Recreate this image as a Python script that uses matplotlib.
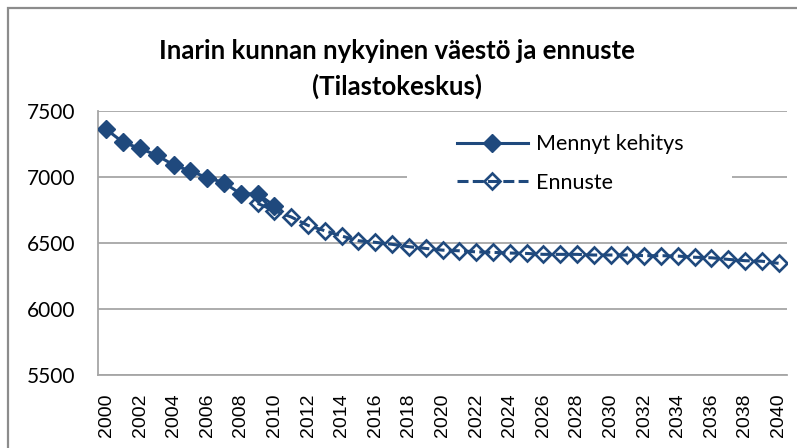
import matplotlib
matplotlib.use("Agg")
import matplotlib.pyplot as plt
from matplotlib.patches import Rectangle

years_past = list(range(2000, 2011))
past_values = [7360, 7262, 7217, 7164, 7091, 7045, 6995, 6957, 6871, 6874, 6780]

years_fc = list(range(2009, 2041))
fc_values = [6800, 6745, 6697, 6633, 6593, 6553, 6517, 6505, 6490, 6472,
             6459, 6446, 6441, 6433, 6429, 6424, 6421, 6414, 6414, 6414,
             6409, 6409, 6409, 6404, 6404, 6401, 6392, 6388, 6376, 6366,
             6362, 6346]

tick_years = list(range(2000, 2041, 2))
y_ticks = [5500, 6000, 6500, 7000, 7500]

title = "Inarin kunnan nykyinen väestö ja ennuste\n(Tilastokeskus)"
label_past = "Mennyt kehitys"
label_fc = "Ennuste"

color = "#1F497D"
grid_c = "#A6A6A6"

fig = plt.figure(figsize=(7.97, 4.48), dpi=100)
fig.patch.set_facecolor("white")

# outer chart border
fig.patches.append(Rectangle((8/797, -0.2), 1.2, (448-8)/448 + 0.2, transform=fig.transFigure,
                             fill=False, edgecolor="#8C8C8C", linewidth=1.6))

ax = fig.add_axes([98/797, 73/448, 689/797, 264/448])
ax.set_facecolor("white")

# legend background (white area hiding the gridline behind the legend)
ax.add_patch(Rectangle((0.4485, 0.663), 0.4715, 0.284, transform=ax.transAxes,
                       facecolor="white", edgecolor="none", zorder=1))

ax.plot(years_fc, fc_values, color=color, linewidth=2.2, linestyle=(0, (3.6, 1.4)),
        marker="D", markersize=8.5, markerfacecolor="none", markeredgecolor=color,
        markeredgewidth=1.9, label=label_fc, zorder=3)
ax.plot(years_past, past_values, color=color, linewidth=2.2, linestyle="-",
        marker="D", markersize=9.5, markerfacecolor=color, markeredgecolor=color,
        label=label_past, zorder=4)

ax.set_xlim(1999.5, 2040.5)
ax.set_ylim(5500, 7500)
ax.set_yticks(y_ticks)
ax.set_xticks(tick_years)
ax.set_xticklabels([str(y) for y in tick_years], rotation=90,
                   fontfamily="Liberation Sans", fontsize=14)
ax.set_yticklabels([str(v) for v in y_ticks], fontfamily="Lato", fontsize=15)
ax.tick_params(axis="both", length=0)
ax.tick_params(axis="y", pad=16)
ax.tick_params(axis="x", pad=13)

ax.grid(axis="y", color=grid_c, linewidth=1.3)
ax.set_axisbelow(True)
for side in ["top", "right"]:
    ax.spines[side].set_visible(False)
for side in ["left", "bottom"]:
    ax.spines[side].set_color(grid_c)
    ax.spines[side].set_linewidth(1.3)

handles, labels = ax.get_legend_handles_labels()
leg = ax.legend(handles[::-1], labels[::-1], loc="upper left",
                bbox_to_anchor=(0.521, 0.912), frameon=False,
                prop={"family": "Lato", "size": 15.5}, handlelength=3.3,
                handletextpad=0.38, labelspacing=0.85, borderpad=0, borderaxespad=0)

fig.text(397/797, 1 - 69/448, title, ha="center", va="center",
         fontfamily="Lato", fontsize=18.5, fontweight="bold", linespacing=1.5)

fig.savefig("out.png", dpi=100, facecolor="white")
